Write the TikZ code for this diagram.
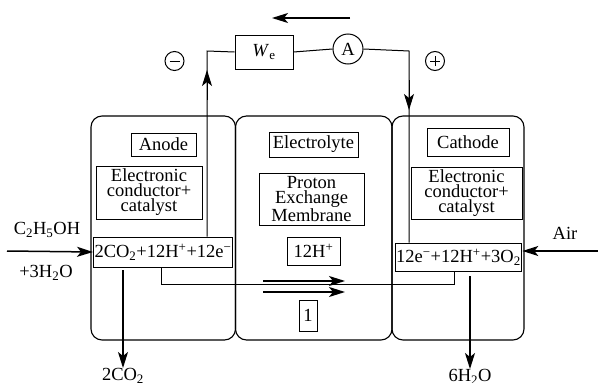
\documentclass[tikz,border=0pt]{standalone}
\usepackage{fontspec}
\setmainfont{Liberation Serif}
\usetikzlibrary{arrows.meta}
\newcommand{\sbx}[1]{\textsubscript{#1}}
\newcommand{\spx}[1]{\textsuperscript{#1}}
\begin{document}
\begin{tikzpicture}[x=1pt,y=-1pt,
  panel/.style={draw,line width=1.1pt,rounded corners=11pt},
  tbox/.style={draw,line width=1pt,inner sep=1pt,align=center,font=\fontsize{18.5}{15}\selectfont},
  lbl/.style={inner sep=0pt,font=\fontsize{18.5}{15}\selectfont},
  wire/.style={line width=1pt},
  bigarrow/.style={line width=1.5pt,-{Stealth[length=16pt,width=10pt,inset=4pt]}},
  sign/.style={draw,circle,line width=1pt,minimum size=19pt,inner sep=0pt}
]
\useasboundingbox (0,0) rectangle (598,383);
% panels
\draw[panel] (91,116) rectangle (235.5,340);
\draw[panel] (235.5,116) rectangle (392,340);
\draw[panel] (392,116) rectangle (524,340);
% anode side
\node[tbox,minimum width=65pt,minimum height=23pt] (anode) at (163.5,144.5) {Anode};
\node[tbox,minimum width=106pt,minimum height=53pt] (anec) at (149,192.5) {Electronic\\conductor+\\catalyst};
\node[tbox,minimum width=138pt,minimum height=30pt] (anr) at (163,252) {2CO\sbx{2}+12H\spx{+}+12e\spx{−}};
% electrolyte
\node[tbox,minimum width=89pt,minimum height=25pt] (elec) at (313.5,144.5) {Electrolyte};
\node[tbox,minimum width=105pt,minimum height=52pt] (pem) at (311.5,199) {Proton\\Exchange\\Membrane};
\node[tbox,minimum width=53pt,minimum height=28pt] (h12) at (313.5,251) {12H\spx{+}};
\node[tbox,minimum width=18pt,minimum height=31pt] (one) at (308,315.5) {1};
% cathode
\node[tbox,minimum width=82pt,minimum height=28pt] (cath) at (468,142) {Cathode};
\node[tbox,minimum width=111pt,minimum height=52pt] (caec) at (466.5,193) {Electronic\\conductor+\\catalyst};
\node[tbox,minimum width=125pt,minimum height=28pt] (car) at (458.5,257) {12e\spx{−}+12H\spx{+}+3O\sbx{2}};
% external circuit
\node[tbox,minimum width=58pt,minimum height=34pt] (we) at (264,52) {\textit{W}\sbx{e}};
\node[draw,circle,line width=1pt,minimum size=30pt,inner sep=0pt,lbl] (amp) at (348,49) {A};
\coordinate (aw1) at (207,51);
\coordinate (cw1) at (409,51);
\draw[wire] (anr.north -| aw1) -- (aw1) -- (we.west);
\draw[wire] (we.east) -- (amp.west);
\draw[wire] (amp.east) -- (cw1) -- (car.north -| cw1);
\coordinate (aa1) at (207,100);
\coordinate (aa2) at (207,70);
\draw[bigarrow,line width=1pt] (aa1) -- (aa2);
\coordinate (ca1) at (409,80);
\coordinate (ca2) at (409,110);
\draw[bigarrow,line width=1pt] (ca1) -- (ca2);
\coordinate (ta1) at (350,18);
\coordinate (ta2) at (272,18);
\draw[bigarrow] (ta1) -- (ta2);
\node[sign] (minus) at (174.5,61) {};
\draw[line width=1pt] ([xshift=-5pt]minus.center) -- ([xshift=5pt]minus.center);
\node[sign] (plus) at (435,61) {};
\draw[line width=1pt] ([xshift=-5pt]plus.center) -- ([xshift=5pt]plus.center);
\draw[line width=1pt] ([yshift=-5pt]plus.center) -- ([yshift=5pt]plus.center);
% internal proton path
\coordinate (p1) at (161,284);
\coordinate (p2) at (454,284);
\draw[wire] (anr.south -| p1) -- (p1) -- (p2) -- (car.south -| p2);
\coordinate (m1a) at (263,281);
\coordinate (m1b) at (345,281);
\coordinate (m2a) at (263,292);
\coordinate (m2b) at (345,292);
\draw[bigarrow] (m1a) -- (m1b);
\draw[bigarrow] (m2a) -- (m2b);
% inputs and outputs
\node[lbl] (fuel) at (47,230) {C\sbx{2}H\sbx{5}OH};
\node[lbl] (water) at (46,273) {+3H\sbx{2}O};
\coordinate (fa) at (7,251);
\draw[bigarrow] (fa) -- (anr.west);
\node[lbl] (air) at (565,233) {Air};
\coordinate (airs) at (598,251);
\draw[bigarrow] (airs) -- (car.east |- airs);
\coordinate (co2s) at (123,270);
\node[lbl,anchor=north] (co2) at (123,368) {2CO\sbx{2}};
\draw[bigarrow] (co2s) -- (co2.north);
\coordinate (h2os) at (470,276);
\node[lbl,anchor=north] (h2o) at (470,369) {6H\sbx{2}O};
\draw[bigarrow] (h2os) -- (h2o.north);
\end{tikzpicture}
\end{document}
